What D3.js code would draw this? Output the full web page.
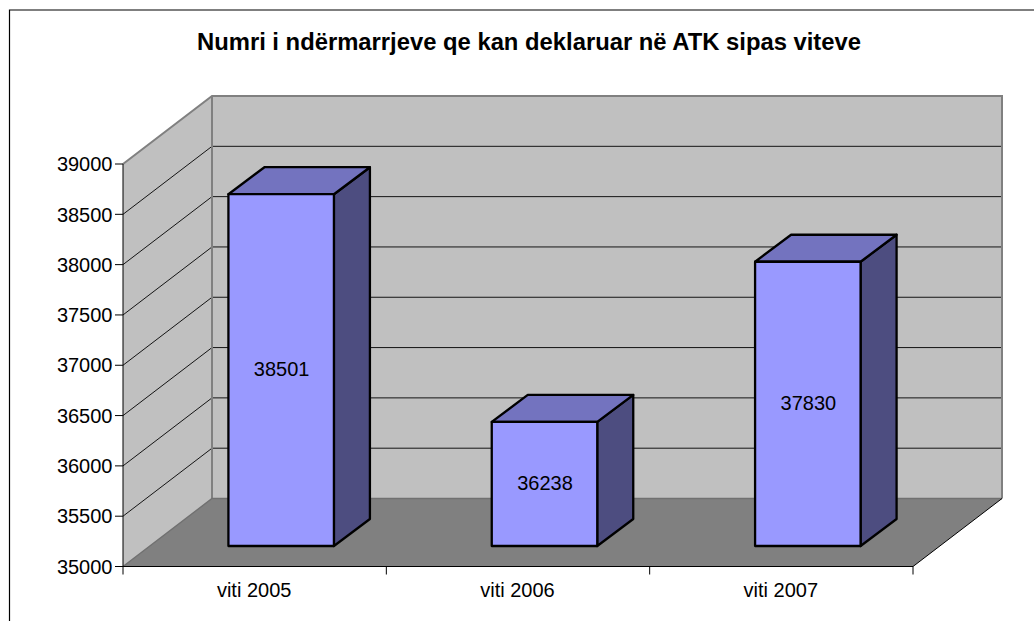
<!DOCTYPE html>
<html><head><meta charset="utf-8">
<script src="https://cdn.jsdelivr.net/npm/d3@7"></script>
<style>html,body{margin:0;padding:0;background:#fff}svg{display:block}text{font-family:"Liberation Sans",Arial,sans-serif;fill:#000}</style>
</head><body><svg id="c" width="1034" height="621"></svg>
<script>
const categories = ["viti 2005","viti 2006","viti 2007"];
const values = [38501,36238,37830];
const yTicks = [35000,35500,36000,36500,37000,37500,38000,38500,39000];
const title = "Numri i ndërmarrjeve qe kan deklaruar në ATK sipas viteve";

const svg = d3.select("#c");
const x0=123,x1=913,yB=566.5,yT=164,dx=89,dy=-68,barW=105.5,bdx=36,bdy=-27;
const y = d3.scaleLinear().domain([35000,39000]).range([yB,yT]);
const x = d3.scaleBand().domain(categories).range([x0,x1]);
const line=(p)=>"M"+p.map(d=>d.join(",")).join("L");
const poly=(p)=>line(p)+"Z";

// frame
svg.append("path").attr("d",line([[9.5,625],[9.5,10],[1040,10]])).attr("fill","none").attr("stroke","#000").attr("stroke-width",1.2);

// title
svg.append("text").attr("x",529).attr("y",50).attr("text-anchor","middle").attr("font-size",23).attr("font-weight","bold").attr("textLength",664).attr("lengthAdjust","spacingAndGlyphs").text(title);

// walls
svg.append("path").attr("d",poly([[x0+dx,yT+dy],[x1+dx,yT+dy],[x1+dx,yB+dy],[x0+dx,yB+dy]])).attr("fill","#c0c0c0");
svg.append("path").attr("d",poly([[x0,yT],[x0+dx,yT+dy],[x0+dx,yB+dy],[x0,yB]])).attr("fill","#c0c0c0");
svg.append("path").attr("d",poly([[x0,yB],[x0+dx,yB+dy],[x1+dx,yB+dy],[x1,yB]])).attr("fill","#808080");

// gridlines
const inner=yTicks.slice(1,-1);
svg.append("g").selectAll("path").data(inner).join("path")
  .attr("d",v=>line([[x0,y(v)],[x0+dx,y(v)+dy],[x1+dx,y(v)+dy]]))
  .attr("fill","none").attr("stroke","#000").attr("stroke-width",0.9);

// wall outlines
svg.append("path").attr("d",line([[x0,yT],[x0+dx,yT+dy],[x1+dx,yT+dy],[x1+dx,yB+dy]])).attr("fill","none").attr("stroke","#808080").attr("stroke-width",2);
svg.append("path").attr("d",line([[x0+dx,yT+dy],[x0+dx,yB+dy]])).attr("fill","none").attr("stroke","#808080").attr("stroke-width",2);
svg.append("path").attr("d",line([[x0,yB],[x0+dx,yB+dy],[x1+dx,yB+dy]])).attr("fill","none").attr("stroke","#707070").attr("stroke-width",1.4);
svg.append("path").attr("d",line([[x1,yB],[x1+dx,yB+dy]])).attr("fill","none").attr("stroke","#000").attr("stroke-width",1);

// axes
svg.append("path").attr("d",line([[x0,yT],[x0,yB],[x1,yB]])).attr("fill","none").attr("stroke","#000").attr("stroke-width",1);
const yg=svg.append("g").selectAll("g").data(yTicks).join("g").attr("transform",v=>`translate(0,${y(v)})`);
yg.append("line").attr("x1",x0-8).attr("x2",x0).attr("stroke","#000");
yg.append("text").attr("x",112.5).attr("dy","0.36em").attr("text-anchor","end").attr("font-size",20).text(v=>v);
const xt=[...categories.map(c=>x(c)),x1];
svg.append("g").selectAll("line").data(xt).join("line").attr("x1",d=>d).attr("x2",d=>d).attr("y1",yB).attr("y2",yB+8).attr("stroke","#000");
svg.append("g").selectAll("text").data(categories).join("text")
  .attr("x",c=>x(c)+x.bandwidth()/2-.5).attr("y",597).attr("text-anchor","middle").attr("font-size",20).text(c=>c);

// bars
const offX=(dx-bdx)/2, offY=(dy-bdy)/2;
const bars=svg.append("g").selectAll("g").data(categories.map((c,i)=>({c,v:values[i]}))).join("g");
const L=d=>x(d.c)+(x.bandwidth()-barW)/2+offX, R=d=>L(d)+barW, T=d=>y(d.v)+offY+.5, B=()=>yB+offY;
const st=s=>s.attr("stroke","#000").attr("stroke-width",2.3).attr("stroke-linejoin","round");
bars.append("path").attr("d",d=>poly([[R(d),T(d)],[R(d)+bdx,T(d)+bdy],[R(d)+bdx,B()+bdy],[R(d),B()]])).attr("fill","#4d4d80").call(st);
bars.append("path").attr("d",d=>poly([[L(d),T(d)],[L(d)+bdx,T(d)+bdy],[R(d)+bdx,T(d)+bdy],[R(d),T(d)]])).attr("fill","#7373bf").call(st);
bars.append("path").attr("d",d=>poly([[L(d),T(d)],[R(d),T(d)],[R(d),B()],[L(d),B()]])).attr("fill","#9999ff").call(st);
bars.append("text").attr("x",d=>L(d)+barW/2+.5).attr("y",d=>(T(d)+B())/2-1.5).attr("dy","0.36em").attr("text-anchor","middle").attr("font-size",20).text(d=>d.v);
</script></body></html>
